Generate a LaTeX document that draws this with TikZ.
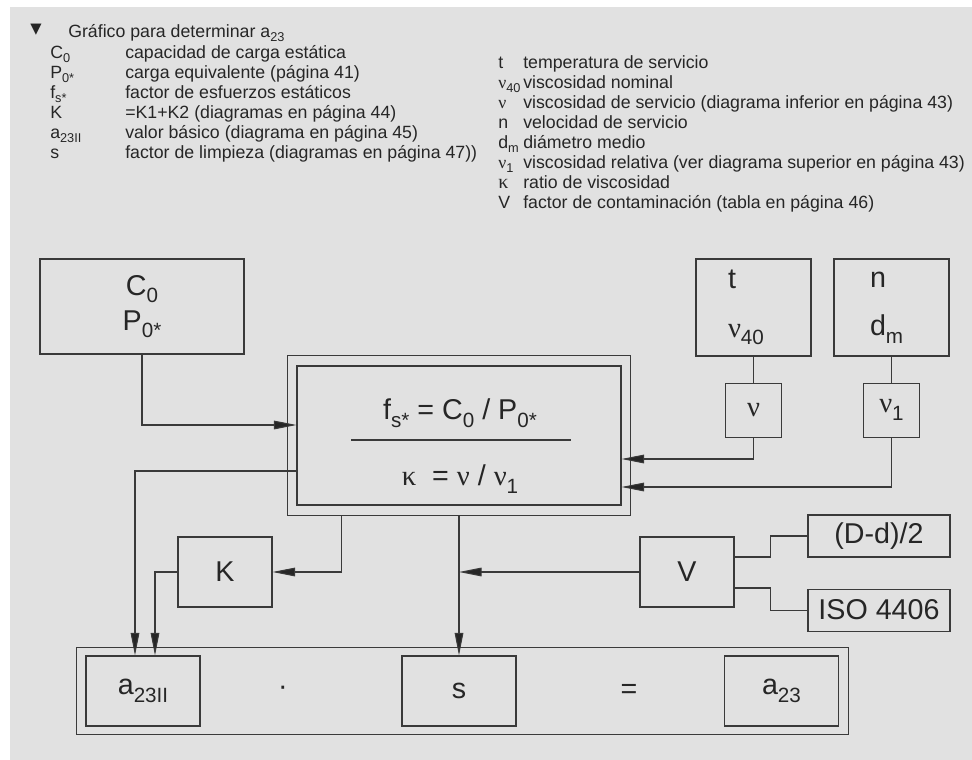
\documentclass[tikz,border=0pt]{standalone}
\usepackage{fontspec}
\setmainfont{Liberation Sans}
\newfontfamily\grk{Liberation Serif}
\newfontfamily\symf{DejaVu Sans}
\usetikzlibrary{arrows.meta,positioning,fit,calc}
\definecolor{bggray}{HTML}{E1E1E1}
\definecolor{ink}{HTML}{262626}
\definecolor{wire}{HTML}{3A3A3A}
\newcommand{\lo}[1]{\raisebox{-0.5ex}{\scalebox{0.72}{#1}}}
\newcommand{\nuv}{{\grk ν}}
\newcommand{\kap}{{\grk κ}}
\newcommand{\legfont}{\fontsize{13.3}{15}\selectfont}
\newcommand{\bigfont}{\fontsize{21.5}{26.25}\selectfont}

\begin{document}
\begin{tikzpicture}[
  x=0.75pt, y=-0.75pt,
  >={Triangle[length=17pt,width=6.5pt,fill=ink]},
  box/.style={draw=wire, line width=0.8pt, inner sep=0pt, align=center, font=\bigfont, text=ink},
  frame/.style={draw=wire, line width=0.8pt, inner sep=0pt},
  legtxt/.style={font=\legfont, text=ink, inner sep=0pt, anchor=base west},
  arrow/.style={->, draw=wire, line width=0.8pt},
  wire/.style={draw=wire, line width=0.8pt}
]
\useasboundingbox (0,0) rectangle (972,760);
\fill[bggray] (10,7) rectangle (972,760);

% legend
\node[font=\symf\fontsize{11}{12}\selectfont, text=ink] (tri) at (36,30) {▼};
\node[legtxt] (title) at (68,37) {Gráfico para determinar a\lo{23}};
\foreach \lsym/\ltxt [count=\i] in {
  {C\lo{0}}/{capacidad de carga estática},
  {P\lo{0*}}/{carga equivalente (página 41)},
  {f\lo{s*}}/{factor de esfuerzos estáticos},
  {K}/{=K1+K2 (diagramas en página 44)},
  {a\lo{23II}}/{valor básico (diagrama en página 45)},
  {s}/{factor de limpieza (diagramas en página 47))}}{
  \node[legtxt] (ls\i) at (50,{38+20*\i}) {\lsym};
  \node[legtxt] (lt\i) at (125,{38+20*\i}) {\ltxt};
}
\foreach \lsym/\ltxt [count=\i] in {
  {t}/{temperatura de servicio},
  {\nuv\lo{40}}/{viscosidad nominal},
  {\nuv}/{viscosidad de servicio (diagrama inferior en página 43)},
  {n}/{velocidad de servicio},
  {d\lo{m}}/{diámetro medio},
  {\nuv\lo{1}}/{viscosidad relativa (ver diagrama superior en página 43)},
  {{\fontsize{15}{15}\selectfont\kap}}/{ratio de viscosidad},
  {V}/{factor de contaminación (tabla en página 46)}}{
  \node[legtxt] (rs\i) at (498,{48+20*\i}) {\lsym};
  \node[legtxt] (rt\i) at (523,{48+20*\i}) {\ltxt};
}

% inputs
\node[box, minimum width=153pt, minimum height=71.25pt] (cp) at (142,306.5) {C\lo{0}\\P\lo{0*}};
\node[box, minimum height=72.75pt, align=left, inner xsep=24pt, text width=38.25pt] (tv) at (753.5,307.5) {t\\[10pt]\nuv\lo{40}};
\node[box, minimum height=72.75pt, align=left, inner xsep=27pt, text width=32.25pt] (nd) at (891.5,307.5) {n\\[10pt]d\lo{m}};
\node[box, minimum width=42pt, minimum height=40.5pt, below=19.5pt of tv] (nu) {\nuv};
\node[box, minimum width=42pt, minimum height=40.5pt, below=19.5pt of nd] (nu1) {\nuv\lo{1}};

% central box
\node[frame, minimum width=243pt, minimum height=104.25pt] (inner) at (459,435.5) {};
\node[frame, fit=(inner), inner xsep=6.75pt, inner ysep=7.5pt] (outer) {};
\node[font=\bigfont, text=ink] (fs) at (460,413) {f\lo{s*} = C\lo{0} / P\lo{0*}};
\node[font=\bigfont, text=ink] (kappa) at (460,479) {\kap\ \ = \nuv\ / \nuv\lo{1}};
\draw[wire] (351,440) -- (571,440);

% middle row
\node[box, minimum width=70.5pt, minimum height=52.5pt] (K) at (225,572) {K};
\node[box, minimum width=70.5pt, minimum height=52.5pt] (V) at (687,572) {V};
\node[box, minimum width=106.5pt, minimum height=31.5pt] (Dd) at (879,536) {(D-d)/2};
\node[box, minimum width=106.5pt, minimum height=31.5pt, below=23.25pt of Dd] (iso) {ISO 4406};

% result row
\node[box, minimum width=85.5pt, minimum height=52.5pt] (aII) at (143,691) {a\lo{23II}};
\node[box, minimum width=85.5pt, minimum height=52.5pt] (s) at (459,691) {s};
\node[box, minimum width=85.5pt, minimum height=52.5pt] (a23) at (781.5,691) {a\lo{23}};
\node[frame, fit=(aII)(a23), inner xsep=6.75pt, inner ysep=6.25pt] (res) {};
\node[font=\bigfont, text=ink] (dot) at (283,691) {·};
\node[font=\bigfont, text=ink] (eq) at (629,691) {=};

% connectors
\draw[arrow] (cp.south) |- ($(inner.west)+(0,-10.5)$);
\draw[wire] (tv.south) -- (nu.north);
\draw[wire] (nd.south) -- (nu1.north);
\draw[arrow] (nu.south) |- ($(inner.east)+(0,23.5)$);
\draw[arrow] (nu1.south) |- ($(inner.east)+(0,51.5)$);
\draw[arrow] ($(outer.south west)+(55,0)$) |- (K.east);
\draw[arrow] ($(inner.west)+(0,35.5)$) -| ($(aII.north)+(-8,0)$);
\draw[arrow] (K.west) -| ($(aII.north)+(12,0)$);
\draw[arrow] (outer.south) -- (s.north);
\draw[arrow] (V.west) -- (V.west -| outer.south);
\draw[wire] ($(V.east)+(0,-15)$) -- ++(36,0) |- (Dd.west);
\draw[wire] ($(V.east)+(0,16)$) -- ++(36,0) |- (iso.west);
\end{tikzpicture}
\end{document}
